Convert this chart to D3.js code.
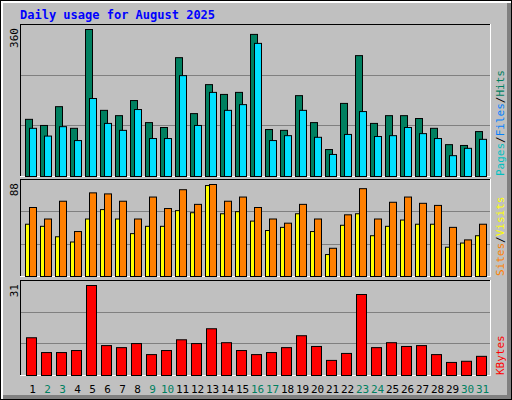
<!DOCTYPE html>
<html><head><meta charset="utf-8">
<script src="https://cdn.jsdelivr.net/npm/d3@7"></script>
<style>body{margin:0}svg{display:block}</style></head>
<body><svg id="c" width="512" height="400"></svg>
<script>
const days = d3.range(1,32);
const weekend = [2,3,9,10,16,17,23,24,30,31];
const hits  = [140,125,171,118,360,162,149,186,132,120,291,154,225,201,206,348,115,113,198,132,66,179,296,130,149,149,142,118,78,76,110];
const files = [118,99,122,88,191,130,113,164,93,93,247,125,206,162,176,326,88,100,162,96,54,103,159,98,100,120,105,93,51,69,91];
const sites = [50,48,38,33,55,64,55,41,48,48,63,61,87,60,62,53,44,47,60,43,21,49,60,39,48,54,50,50,28,32,39];
const visits= [66,55,72,43,80,79,72,55,76,65,83,69,88,72,76,66,55,51,69,55,27,59,84,55,71,76,70,68,47,35,50];
const kbytes= [13.0,7.9,7.9,8.6,31,10.3,9.6,11.0,7.2,8.6,12.3,11.0,16.1,11.3,8.6,7.2,7.9,9.6,13.7,10.0,5.2,7.6,27.9,9.6,11.3,10.0,10.3,7.2,4.5,4.9,6.6];
const maxLabels = ["360","88","31"];

const svg = d3.select("#c");
const mono = "'DejaVu Sans Mono', monospace";
svg.append("rect").attr("width",512).attr("height",400).attr("fill","#000");
svg.append("rect").attr("x",1).attr("y",1).attr("width",510).attr("height",398).attr("fill","#fff");
svg.append("rect").attr("x",3).attr("y",3).attr("width",508).attr("height",396).attr("fill","#808080");
svg.append("rect").attr("x",3).attr("y",3).attr("width",504).attr("height",392).attr("fill","#c0c0c0");

svg.append("text").attr("x",20).attr("y",19).attr("fill","#0000ff")
  .attr("font-family",mono).attr("font-weight","bold").attr("font-size",12).text("Daily usage for August 2025");

const x = d3.scaleBand().domain(days).range([21,486]).paddingInner(0);

function panel(top,bottom,max,label,series,legend){
  const y = d3.scaleLinear().domain([0,max]).range([bottom,top+5]);
  svg.append("rect").attr("x",20).attr("y",top).attr("width",471).attr("height",bottom-top+1).attr("fill","#fff");
  svg.append("rect").attr("x",20).attr("y",top).attr("width",470).attr("height",bottom-top).attr("fill","#000");
  svg.append("rect").attr("x",21).attr("y",top+1).attr("width",469).attr("height",bottom-top-1).attr("fill","#c0c0c0");
  [1,2].forEach(k=>{
    const gy = Math.round(bottom-(bottom-top)*k/3)+0.5;
    svg.append("line").attr("x1",21).attr("x2",490).attr("y1",gy).attr("y2",gy).attr("stroke","#808080");
  });
  series.forEach(s=>{
    svg.append("g").selectAll("rect").data(s.data).join("rect")
      .attr("x",(d,i)=>x(days[i])+s.off+0.5).attr("width",s.w)
      .attr("y",d=>y(d)+0.5).attr("height",d=>bottom-y(d))
      .attr("fill",s.color).attr("stroke","#000");
  });
  svg.append("text").attr("transform",`translate(18,${top+4}) rotate(-90)`).attr("text-anchor","end")
    .attr("font-family",mono).attr("font-size",11).attr("fill","#000").text(label);
  const t = svg.append("text").attr("transform",`translate(503,${top+2}) rotate(90)`)
    .attr("font-family",mono).attr("font-size",11);
  // legend reads bottom to top -> rotate(-90) anchored at bottom
  t.remove();
  const t2 = svg.append("text").attr("transform",`translate(504,${bottom}) rotate(-90)`)
    .attr("font-family",mono).attr("font-size",11);
  legend.forEach((l,i)=>{
    if(i>0) t2.append("tspan").attr("fill","#000").text("/");
    t2.append("tspan").attr("fill",l.c).text(l.t);
  });
}
panel(24,176,360,maxLabels[0],[
  {data:hits,off:4,w:7,color:"#008060"},
  {data:files,off:8,w:7,color:"#00e0ff"}
],[{t:"Pages",c:"#00c0c0"},{t:"Files",c:"#0080ff"},{t:"Hits",c:"#008060"}]);
panel(179,276,88,maxLabels[1],[
  {data:sites,off:4,w:7,color:"#ffff00"},
  {data:visits,off:8,w:7,color:"#ff8000"}
],[{t:"Sites",c:"#ff8000"},{t:"Visits",c:"#ffff00"}]);
panel(280,375,31,maxLabels[2],[
  {data:kbytes,off:5,w:10,color:"#ff0000"}
],[{t:"KBytes",c:"#ff0000"}]);

svg.append("g").selectAll("text").data(days).join("text")
  .attr("x",d=>x(d)+x.bandwidth()/2+4).attr("y",393).attr("text-anchor","middle")
  .attr("font-family",mono).attr("font-size",11)
  .attr("fill",d=>weekend.includes(d)?"#008060":"#000").text(d=>d);
</script></body></html>
